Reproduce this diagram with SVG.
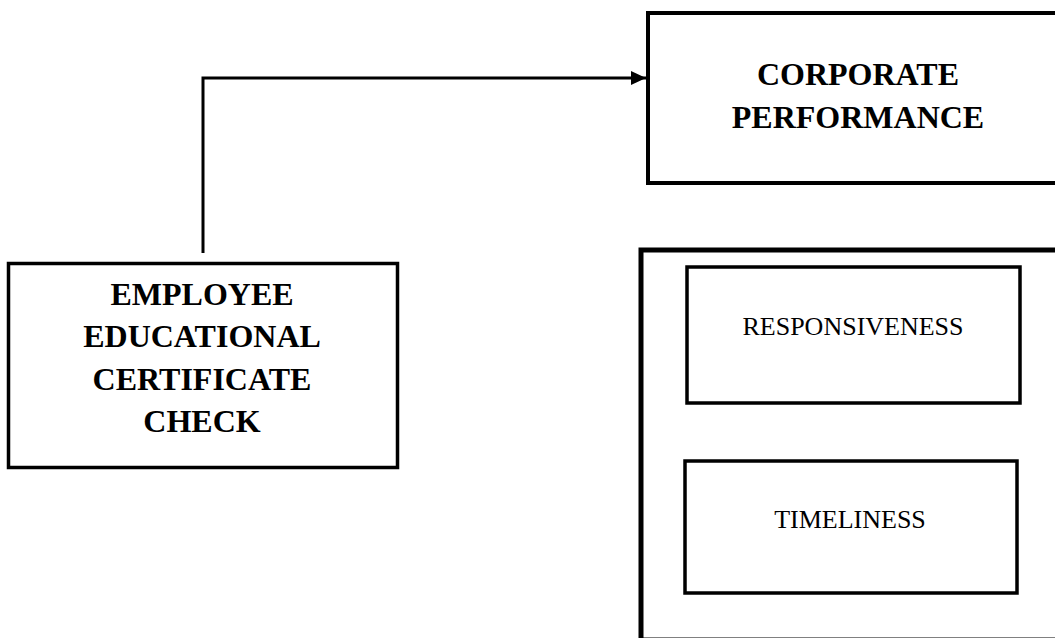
<svg xmlns="http://www.w3.org/2000/svg" width="1055" height="638" viewBox="0 0 1055 638">
<style>
.box{fill:#fff;stroke:#000}
.bt{font-family:"Liberation Serif","Times New Roman",serif;font-weight:bold;font-size:32px;text-anchor:middle;fill:#000}
.nt{font-family:"Liberation Serif","Times New Roman",serif;font-size:26px;text-anchor:middle;fill:#000}
.conn{fill:none;stroke:#000;stroke-width:3}
</style>
<defs>
<marker id="arr" markerUnits="userSpaceOnUse" markerWidth="16" markerHeight="16" refX="15" refY="8" orient="auto">
<path d="M0,1 L15,8 L0,15 Z" fill="#000"/>
</marker>
</defs>
<rect width="1055" height="638" fill="#fff"/>
<g id="connectors">
<path class="conn" d="M203,253 L203,78 L646,78" marker-end="url(#arr)"/>
</g>
<g id="corporate">
<rect class="box" x="648" y="13" width="430" height="170" stroke-width="4"/>
<text class="bt" x="858" y="85">CORPORATE</text>
<text class="bt" x="858" y="128">PERFORMANCE</text>
</g>
<g id="employee">
<rect class="box" x="8.5" y="263.5" width="389" height="204" stroke-width="3.5"/>
<text class="bt" x="202" y="305">EMPLOYEE</text>
<text class="bt" x="202" y="347">EDUCATIONAL</text>
<text class="bt" x="202" y="390">CERTIFICATE</text>
<text class="bt" x="202" y="432">CHECK</text>
</g>
<g id="group">
<rect class="box" x="641" y="250" width="430" height="390" stroke-width="5"/>
</g>
<g id="responsiveness">
<rect class="box" x="687" y="267" width="333" height="136" stroke-width="3.5"/>
<text class="nt" x="853" y="335">RESPONSIVENESS</text>
</g>
<g id="timeliness">
<rect class="box" x="685" y="461" width="332" height="132" stroke-width="3.5"/>
<text class="nt" x="850" y="528">TIMELINESS</text>
</g>
</svg>
